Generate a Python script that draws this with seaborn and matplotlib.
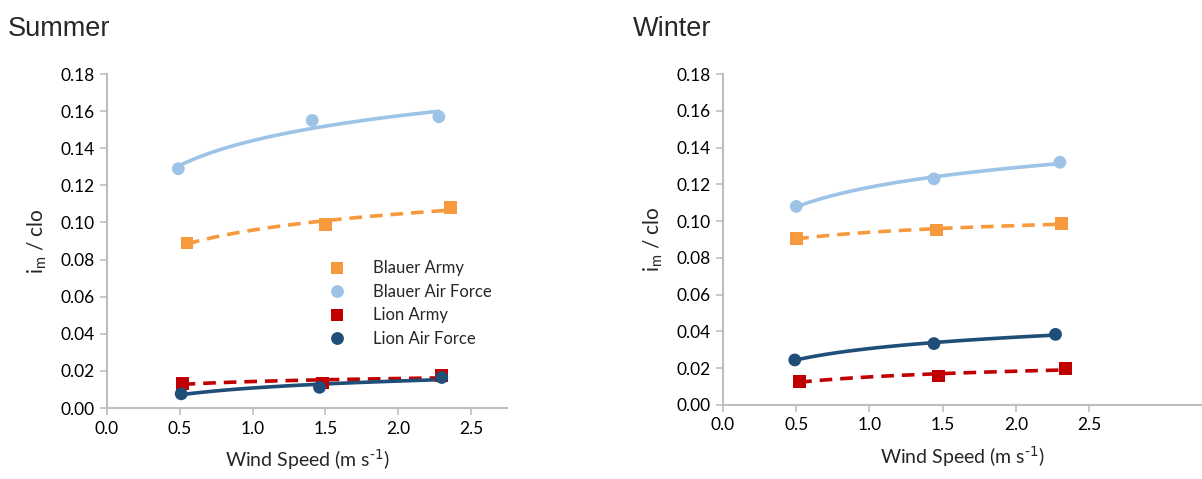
import pandas as pd
import seaborn as sns
import matplotlib.pyplot as plt

# series names (legend order), colours, markers
series = ["Blauer Army", "Blauer Air Force", "Lion Army", "Lion Air Force"]
colors = ["#F79A3E", "#9DC3E6", "#C00000", "#1F4E79"]
markers = ["s", "o", "s", "o"]
dashed = [True, False, True, False]

# Summer values (wind speed, im/clo)
summer_x = {
    "Blauer Army": [0.55, 1.50, 2.36],
    "Blauer Air Force": [0.49, 1.41, 2.28],
    "Lion Army": [0.52, 1.48, 2.30],
    "Lion Air Force": [0.51, 1.46, 2.30],
}
summer_y = {
    "Blauer Army": [0.089, 0.099, 0.108],
    "Blauer Air Force": [0.129, 0.155, 0.157],
    "Lion Army": [0.0133, 0.0135, 0.0175],
    "Lion Air Force": [0.0077, 0.0112, 0.0165],
}

# Winter values
winter_x = {
    "Blauer Army": [0.50, 1.46, 2.31],
    "Blauer Air Force": [0.50, 1.44, 2.30],
    "Lion Army": [0.52, 1.47, 2.34],
    "Lion Air Force": [0.49, 1.44, 2.27],
}
winter_y = {
    "Blauer Army": [0.0905, 0.0952, 0.0988],
    "Blauer Air Force": [0.108, 0.123, 0.132],
    "Lion Army": [0.0127, 0.0158, 0.0199],
    "Lion Air Force": [0.0245, 0.0334, 0.0384],
}

x_ticks = [0.0, 0.5, 1.0, 1.5, 2.0, 2.5]
y_ticks = [0.00, 0.02, 0.04, 0.06, 0.08, 0.10, 0.12, 0.14, 0.16, 0.18]

sns.set_style("white")
plt.rcParams["font.family"] = ["Lato", "DejaVu Sans"]
plt.rcParams["mathtext.default"] = "regular"

fig = plt.figure(figsize=(12.02, 4.79), dpi=100)
ax1 = fig.add_axes([0.089, 0.148, 0.333, 0.6975])
ax2 = fig.add_axes([0.6015, 0.1545, 0.3985, 0.691])


def make_df(xs, ys):
    rows = []
    for name in series:
        for xv, yv in zip(xs[name], ys[name]):
            rows.append({"Series": name, "x": xv, "y": yv})
    return pd.DataFrame(rows)


def draw(ax, xs, ys, xmax, show_legend):
    df = make_df(xs, ys)
    # log trend lines
    for name, col, dash in zip(series, colors, dashed):
        sub = df[df["Series"] == name]
        sns.regplot(data=sub, x="x", y="y", logx=True, ci=None, scatter=False,
                    ax=ax, color=col,
                    line_kws={"lw": 2.6, "ls": (0, (3.5, 2.2)) if dash else "-"})
    sns.scatterplot(data=df, x="x", y="y", hue="Series", style="Series",
                    hue_order=series, style_order=series,
                    palette=dict(zip(series, colors)),
                    markers=dict(zip(series, markers)),
                    s=85, linewidth=0, ax=ax, zorder=5, legend=show_legend)

    ax.set_xlim(0, xmax)
    ax.set_ylim(0, 0.18)
    ax.set_xticks(x_ticks)
    ax.set_yticks(y_ticks)
    ax.set_xticklabels([f"{v:.1f}" for v in x_ticks])
    ax.set_yticklabels([f"{v:.2f}" for v in y_ticks])
    ax.tick_params(axis="both", labelsize=12.5, colors="#bfbfbf",
                   labelcolor="black", length=5, width=1.2, direction="out",
                   left=True, bottom=True, pad=4)
    for s in ["top", "right"]:
        ax.spines[s].set_visible(False)
    for s in ["left", "bottom"]:
        ax.spines[s].set_color("#bfbfbf")
        ax.spines[s].set_linewidth(1.5)
    ax.set_xlabel(r"Wind Speed (m s$^{\text{-1}}$)", fontsize=14, labelpad=8)
    ax.set_ylabel("i$_m$ / clo", fontsize=15, labelpad=8)

    if show_legend:
        handles, labels = ax.get_legend_handles_labels()
        ax.legend(handles, labels, loc="upper left",
                  bbox_to_anchor=(0.495, 0.487), frameon=False, fontsize=12,
                  handletextpad=1.2, labelspacing=0.45, markerscale=1.0)


draw(ax1, summer_x, summer_y, 2.75, True)
draw(ax2, winter_x, winter_y, 3.27, False)

fig.text(8 / 1202, 1 - 36 / 479, "Summer", fontsize=19.5,
         family="Liberation Sans", va="baseline")
fig.text(633 / 1202, 1 - 36 / 479, "Winter", fontsize=19.5,
         family="Liberation Sans", va="baseline")

fig.savefig("out.png", dpi=100)
